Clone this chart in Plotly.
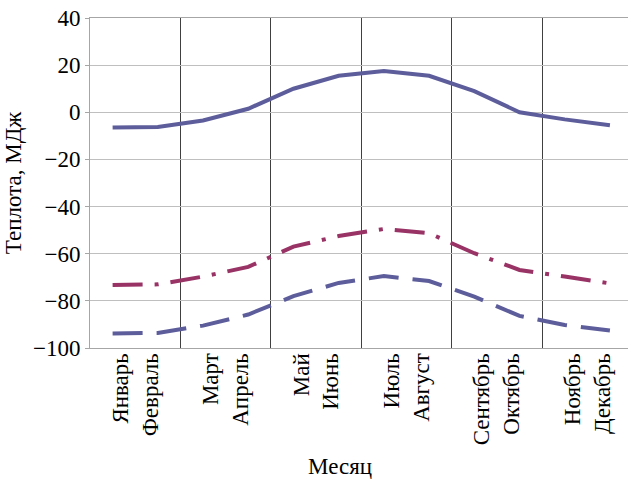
import plotly.graph_objects as go

months = ["Январь", "Февраль", "Март", "Апрель", "Май", "Июнь",
          "Июль", "Август", "Сентябрь", "Октябрь", "Ноябрь", "Декабрь"]
solid_vals = [-6.5, -6.2, -3.5, 1.5, 10, 15.5, 17.5, 15.5, 9, 0, -3, -5.5]
dashdot_vals = [-73.3, -73, -69.7, -65.6, -57, -52.5, -49.5, -51.3, -59.8, -66.9, -69.7, -72.6]
dash_vals = [-93.8, -93.6, -90.5, -85.8, -78, -72.4, -69.5, -71.6, -78.2, -86.4, -90.2, -92.6]
y_ticks = [40, 20, 0, -20, -40, -60, -80, -100]
y_ticktext = ["40", "20", "0", "\u221220", "\u221240", "\u221260", "\u221280", "\u2212100"]

x_pos = [i + 0.5 for i in range(len(months))]
group_ticks = [1, 3, 5, 7, 9, 11]
group_text = [months[i] + "<br>" + months[i + 1] for i in range(0, 12, 2)]
group_bounds = [2, 4, 6, 8, 10]

BLUE = "#5d5d9c"
MAROON = "#993366"
FONT = "Liberation Serif"

fig = go.Figure()
fig.add_trace(go.Scatter(x=x_pos, y=solid_vals, mode="lines",
                         line=dict(color=BLUE, width=4), showlegend=False))
fig.add_trace(go.Scatter(x=x_pos, y=dashdot_vals, mode="lines",
                         line=dict(color=MAROON, width=4, dash="30px,12px,4px,12px"),
                         showlegend=False))
fig.add_trace(go.Scatter(x=x_pos, y=dash_vals, mode="lines",
                         line=dict(color=BLUE, width=4, dash="30px,14px"),
                         showlegend=False))

fig.update_layout(
    width=628, height=480,
    margin=dict(l=90, r=0, t=18, b=132),
    paper_bgcolor="white", plot_bgcolor="white",
    font=dict(family=FONT, size=23, color="black"),
    xaxis=dict(
        range=[0, 11.9], automargin=False,
        tickmode="array", tickvals=group_ticks, ticktext=group_text,
        tickangle=-90, showgrid=False, zeroline=False,
        showline=True, linecolor="#a6a6a6", linewidth=1, mirror=True,
        ticks="", ticklabelstandoff=-5, tickfont=dict(size=23, family=FONT),
        minor=dict(tickmode="array", tickvals=group_bounds, showgrid=True,
                   gridcolor="#404040", gridwidth=1, ticks=""),
    ),
    yaxis=dict(
        range=[-100, 40], automargin=False,
        tickmode="array", tickvals=y_ticks, ticktext=y_ticktext,
        showgrid=True, gridcolor="#bfbfbf", gridwidth=1,
        zeroline=False, showline=True, linecolor="#a6a6a6", linewidth=1,
        ticks="outside", ticklen=4, tickcolor="#a6a6a6",
        tickfont=dict(size=23, family=FONT),
        title=dict(text="Теплота, МДж", font=dict(size=23, family=FONT), standoff=4),
    ),
    annotations=[dict(text="Месяц", xref="paper", yref="paper",
                      x=(340 - 90) / 538, y=-(466 - 348) / 330,
                      xanchor="center", yanchor="middle", showarrow=False,
                      font=dict(size=23, family=FONT))],
)

fig.write_html("out.html", config={"displayModeBar": False},
               post_script="document.body.style.margin='0';document.body.style.overflow='hidden';")
